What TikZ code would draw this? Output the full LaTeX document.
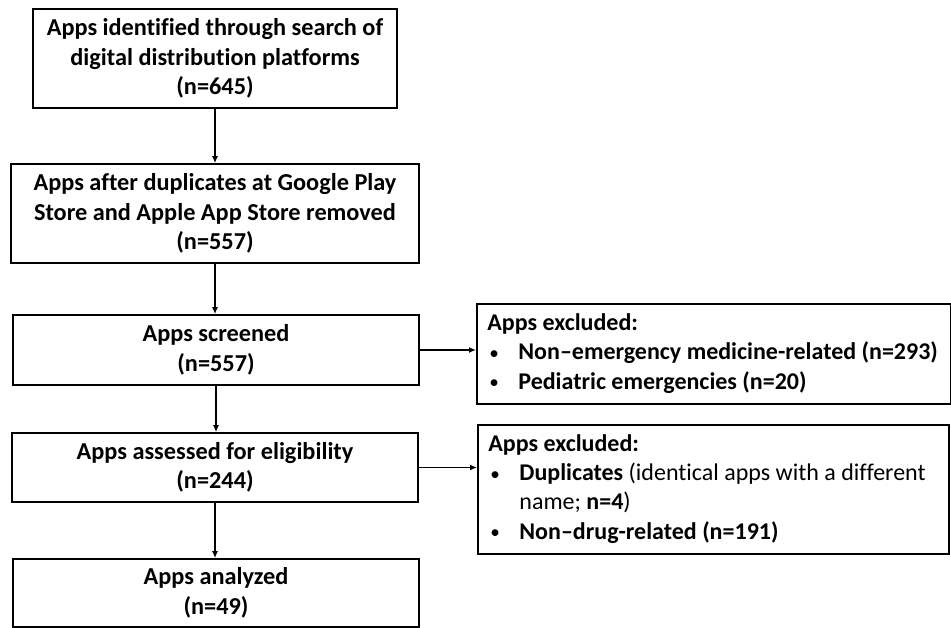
\documentclass[tikz,border=0pt]{standalone}
\usepackage{fontspec}
\setmainfont[Ligatures=NoCommon]{Carlito}
\usetikzlibrary{arrows.meta}
\newcommand{\bul}{\makebox[31pt][l]{\hspace{2pt}\raisebox{0.5pt}{\scalebox{0.8}{\textbullet}}}}
\begin{document}
\begin{tikzpicture}[x=1pt,y=-1pt,
 mainbox/.style={draw, line width=1.8pt, inner sep=0pt, align=center, font=\bfseries\fontsize{24.3}{29.5}\selectfont},
 sidebox/.style={draw, line width=1.8pt, inner xsep=10.5pt, inner ysep=0pt, align=flush left, font=\fontsize{24}{29.3}\selectfont, anchor=north west},
 arr/.style={line width=1.3pt, -{Latex[length=7pt,width=6pt]}}]
\useasboundingbox (0,0) rectangle (951,628);
\node[mainbox, minimum width=364pt, minimum height=99pt] (b1) at (215,58.5) {Apps identified through search of\\digital distribution platforms\\(n=645)};
\node[mainbox, minimum width=408pt, minimum height=99pt] (b2) at (215,213.5) {Apps after duplicates at Google Play\\Store and Apple App Store removed\\(n=557)};
\node[mainbox, minimum width=406pt, minimum height=70pt] (b3) at (216,350) {Apps screened\\(n=557)};
\node[mainbox, minimum width=406pt, minimum height=69pt] (b4) at (215,467.5) {Apps assessed for eligibility\\(n=244)};
\node[mainbox, minimum width=406pt, minimum height=68pt] (b5) at (216,593) {Apps analyzed\\(n=49)};
\node[sidebox, minimum width=474pt, minimum height=100pt, text width=453pt] (s1) at (476,303) {%
\begin{tabular}{@{}l@{}l@{}}
\multicolumn{2}{@{}l@{}}{\textbf{Apps excluded:}}\\
\bul & \textbf{Non–emergency medicine-related (n=293)}\\
\bul & \textbf{Pediatric emergencies (n=20)}
\end{tabular}};
\node[sidebox, minimum width=471pt, minimum height=129pt, text width=450pt] (s2) at (477,424) {%
\begin{tabular}{@{}l@{}l@{}}
\multicolumn{2}{@{}l@{}}{\textbf{Apps excluded:}}\\
\bul & \textbf{Duplicates} (identical apps with a different\\
 & name; \textbf{n=4})\\
\bul & \textbf{Non–drug-related (n=191)}
\end{tabular}};
\draw[arr] (b1.south) -- (b2.north);
\draw[arr] (b2.south) -- (b3.north -| b2.south);
\draw[arr] (b3.south) -- (b4.north -| b3.south);
\draw[arr] (b4.south) -- (b5.north -| b4.south);
\draw[arr] (b3.east) -- (b3.east -| s1.west);
\draw[arr] (b4.east) -- (b4.east -| s2.west);
\end{tikzpicture}
\end{document}
